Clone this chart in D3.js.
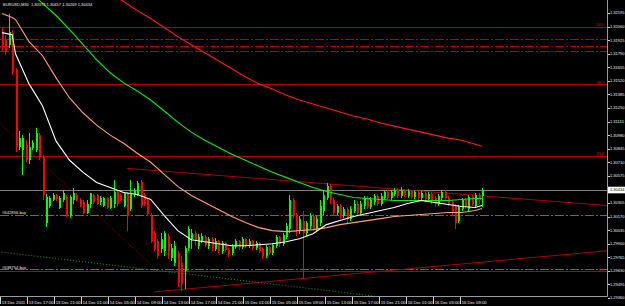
<!DOCTYPE html>
<html><head><meta charset="utf-8">
<script src="https://cdn.jsdelivr.net/npm/d3@7"></script>
<style>html,body{margin:0;padding:0;background:#000;overflow:hidden}</style>
</head><body><svg id="c" width="625" height="306"></svg>
<script>
const symbolTitle = "EURUSD,M30";
const opens = [
1.3200,1.3193,1.3188,1.3200,1.3163,1.3086,1.3083,1.3088,1.3073,1.3085,
1.3083,1.3098,1.3076,1.3011,1.3028,1.3033,1.3038,1.3026,1.3033,1.3036,
1.3018,1.3033,1.3038,1.3033,1.3031,1.3021,1.3030,1.3038,1.3038,1.3031,
1.3028,1.3035,1.3026,1.3030,1.3041,1.3038,1.3028,1.3040,1.3025,1.3038,
1.3038,1.3051,1.3038,1.3033,1.3018,1.3001,1.2993,1.2985,1.2983,1.2998,
1.2976,1.2971,1.2981,1.2971,1.2963,1.2986,1.2995,1.3001,1.2988,1.2993,
1.2997,1.2988,1.2995,1.2985,1.2993,1.2983,1.2991,1.2984,1.2981,1.2987,
1.2993,1.2987,1.2995,1.2988,1.2993,1.2986,1.2991,1.2985,1.2978,1.2987,
1.2981,1.2988,1.2997,1.2990,1.2997,1.3005,1.3033,1.3018,1.3003,1.3013,
1.3001,1.3008,1.3018,1.3005,1.3011,1.3023,1.3035,1.3047,1.3033,1.3021,
1.3028,1.3018,1.3025,1.3015,1.3023,1.3030,1.3021,1.3028,1.3035,1.3027,
1.3031,1.3037,1.3030,1.3035,1.3041,1.3035,1.3039,1.3043,1.3037,1.3043,
1.3037,1.3042,1.3036,1.3041,1.3035,1.3040,1.3034,1.3039,1.3035,1.3030,
1.3035,1.3041,1.3035,1.3031,1.3028,1.3013,1.3025,1.3033,1.3025,1.3036,
1.3028,1.3038,1.30373];
const highs = [
1.3205,1.3198,1.3219,1.3203,1.3165,1.3102,1.3098,1.3093,1.3100,1.3093,
1.3105,1.3100,1.3078,1.3039,1.3037,1.3040,1.3039,1.3037,1.3043,1.3038,
1.3038,1.3045,1.3040,1.3035,1.3033,1.3033,1.3040,1.3039,1.3039,1.3037,
1.3036,1.3036,1.3037,1.3053,1.3043,1.3039,1.3041,1.3041,1.3053,1.3045,
1.3052,1.3053,1.3040,1.3035,1.3021,1.3003,1.2995,1.3001,1.3003,1.3000,
1.2990,1.2993,1.2983,1.2978,1.2988,1.3008,1.3005,1.3003,1.3000,1.3001,
1.2999,1.2997,1.2997,1.2996,1.2994,1.2993,1.2992,1.2986,1.2990,1.2995,
1.2994,1.2997,1.2996,1.2995,1.2994,1.2993,1.2992,1.2987,1.2989,1.2988,
1.2991,1.2999,1.2998,1.3001,1.3011,1.3038,1.3035,1.3021,1.3018,1.3023,
1.3013,1.3021,1.3020,1.3018,1.3033,1.3043,1.3050,1.3049,1.3035,1.3030,
1.3030,1.3027,1.3027,1.3028,1.3033,1.3032,1.3032,1.3037,1.3037,1.3036,
1.3039,1.3039,1.3040,1.3043,1.3043,1.3043,1.3045,1.3045,1.3046,1.3044,
1.3044,1.3043,1.3043,1.3042,1.3042,1.3041,1.3041,1.3041,1.3037,1.3039,
1.3043,1.3043,1.3037,1.3033,1.3030,1.3029,1.3035,1.3035,1.3038,1.3038,
1.3040,1.3040,1.30457];
const lows = [
1.3181,1.3178,1.3185,1.3158,1.3081,1.3083,1.3058,1.3071,1.3069,1.3083,
1.3081,1.3073,1.3033,1.3007,1.3026,1.3032,1.3032,1.3025,1.3031,1.3017,
1.3016,1.3030,1.3032,1.3027,1.3020,1.3020,1.3026,1.3030,1.3029,1.3029,
1.3027,1.3025,1.3025,1.3026,1.3028,1.3032,1.3027,1.3003,1.3023,1.3036,
1.3037,1.3026,1.3028,1.3018,1.2991,1.2983,1.2975,1.2981,1.2978,1.2975,
1.2973,1.2968,1.2947,1.2943,1.2945,1.2983,1.2985,1.2988,1.2985,1.2991,
1.2987,1.2985,1.2983,1.2983,1.2981,1.2980,1.2982,1.2977,1.2979,1.2985,
1.2984,1.2985,1.2986,1.2986,1.2984,1.2984,1.2981,1.2975,1.2976,1.2979,
1.2979,1.2986,1.2987,1.2988,1.2995,1.3001,1.3015,1.2998,1.3000,1.2955,
1.2998,1.3005,1.3003,1.3003,1.3008,1.3019,1.3033,1.3030,1.3018,1.3019,
1.3015,1.3016,1.3011,1.3013,1.3021,1.3019,1.3019,1.3025,1.3025,1.3025,
1.3029,1.3028,1.3028,1.3033,1.3033,1.3033,1.3037,1.3035,1.3035,1.3036,
1.3035,1.3034,1.3034,1.3033,1.3033,1.3031,1.3032,1.3030,1.3027,1.3028,
1.3033,1.3033,1.3028,1.3018,1.3005,1.3011,1.3023,1.3025,1.3023,1.3028,
1.3026,1.3030,1.30269];
const closes = [
1.3188,1.3181,1.3201,1.3161,1.3086,1.3095,1.3095,1.3073,1.3086,1.3090,
1.3100,1.3076,1.3038,1.3036,1.3035,1.3038,1.3034,1.3035,1.3040,1.3018,
1.3036,1.3040,1.3033,1.3028,1.3021,1.3030,1.3040,1.3031,1.3030,1.3035,
1.3035,1.3026,1.3035,1.3041,1.3030,1.3033,1.3040,1.3018,1.3040,1.3043,
1.3050,1.3028,1.3030,1.3020,1.2993,1.2985,1.2978,1.2995,1.3001,1.2983,
1.2986,1.2988,1.2951,1.2950,1.2986,1.3005,1.3001,1.2993,1.2997,1.2998,
1.2989,1.2995,1.2986,1.2993,1.2983,1.2991,1.2984,1.2980,1.2988,1.2993,
1.2987,1.2995,1.2988,1.2993,1.2986,1.2991,1.2983,1.2978,1.2987,1.2981,
1.2989,1.2997,1.2990,1.2999,1.3008,1.3033,1.3018,1.3003,1.3015,1.3001,
1.3011,1.3018,1.3005,1.3015,1.3028,1.3038,1.3047,1.3033,1.3021,1.3028,
1.3018,1.3025,1.3015,1.3025,1.3030,1.3021,1.3030,1.3035,1.3027,1.3033,
1.3037,1.3030,1.3037,1.3041,1.3035,1.3041,1.3043,1.3037,1.3043,1.3038,
1.3042,1.3036,1.3041,1.3035,1.3040,1.3034,1.3039,1.3033,1.3030,1.3037,
1.3041,1.3035,1.3030,1.3021,1.3011,1.3027,1.3033,1.3027,1.3036,1.3030,
1.3038,1.3033,1.30434];

const timeLabels = ["13 Dec 2011","13 Dec 17:00","13 Dec 21:00","14 Dec 01:00","14 Dec 05:00","14 Dec 09:00",
"14 Dec 13:00","14 Dec 17:00","14 Dec 21:00","15 Dec 01:00","15 Dec 05:00","15 Dec 09:00",
"15 Dec 13:00","15 Dec 17:00","15 Dec 21:00","16 Dec 01:00","16 Dec 05:00","16 Dec 09:00"];
const timeLabelBars = [0,8,16,24,32,40,48,56,64,72,80,88,96,104,112,120,128,136];

const priceTicks = [1.32195,1.32060,1.31925,1.31790,1.31655,1.31520,1.31385,1.31250,1.31115,1.30980,1.30845,
1.30710,1.30575,1.30440,1.30305,1.30170,1.30035,1.29900,1.29765,1.29630,1.29495,1.29360];

const maBars = [0,3,4,8,12,16,20,24,28,32,36,40,44,48,52,56,60,64,68,72,76,80,84,88,92,96,100,104,108,112,116,120,124,128,132,136,140,142];
const maWhite = [1.3200,1.3198,1.3179,1.3149,1.3127,1.3092,1.3073,1.3061,1.3051,1.3046,1.3041,1.3039,1.3034,1.3018,1.3003,1.2994,1.2992,1.2990,1.2988,1.2988,1.2989,1.2990,1.2992,1.2995,1.3000,1.3009,1.3013,1.3017,1.3020,1.3023,1.3026,1.3030,1.3033,1.3031,1.3029,1.3027,1.3026,1.3028];
const maSalmon = [1.3219,1.3215,1.3213,1.3191,1.3177,1.3155,1.3135,1.3120,1.3108,1.3098,1.3090,1.3080,1.3071,1.3059,1.3047,1.3038,1.3031,1.3024,1.3017,1.3011,1.3006,1.3003,1.3002,1.3003,1.3004,1.3006,1.3009,1.3011,1.3013,1.3015,1.3017,1.3018,1.3019,1.3020,1.3021,1.3021,1.3023,1.3025];
const maGreen = [1.3266,1.3257,1.3253,1.3241,1.3229,1.3217,1.3203,1.3188,1.3173,1.3160,1.3150,1.3142,1.3133,1.3122,1.3111,1.3101,1.3093,1.3086,1.3079,1.3073,1.3067,1.3061,1.3056,1.3051,1.3046,1.3042,1.3039,1.3036,1.3035,1.3034,1.3033,1.3033,1.3033,1.3033,1.3033,1.3034,1.3035,1.3035];
const maRed = [1.3310,1.3303,1.3301,1.3292,1.3283,1.3275,1.3266,1.3257,1.3248,1.3239,1.3231,1.3222,1.3214,1.3205,1.3196,1.3188,1.3180,1.3172,1.3164,1.3156,1.3149,1.3144,1.3138,1.3133,1.3129,1.3125,1.3121,1.3117,1.3114,1.3110,1.3107,1.3104,1.3101,1.3098,1.3095,1.3093,1.3089,1.3087];

const fibLow = 1.2962, fibHigh = 1.3449;
const fibLevels = [0, 23.6, 38.2, 50];
const fibLabels = ["0.0","23.6","38.2","50.0"];
const pendingLevels = [1.3193, 1.3186, 1.3181];
const orderLabels = ["#642856 buy", "#638754 buy"];
const orderPrices = [1.3018, 1.2964];
const bidPrice = 1.30434;
// trend lines: [bar1, price1, bar2, price2]
const trendSolid = [[37, 1.3065, 179, 1.3028], [45, 1.2942, 179, 1.2983]];
const trendDottedRed = [-1, 1.3111, 46, 1.2963];
const trendDottedGreen = [-1, 1.2982, 130, 1.2930];

// ---------- drawing ----------
const W = 625, H = 306, PW = 607, PH = 296;
const FONT = "Liberation Sans, Arial, sans-serif";
const svg = d3.select("#c");
svg.append("rect").attr("width", W).attr("height", H).attr("fill", "#000");

const x = d3.scaleLinear().domain([0, 142]).range([2, 482]);
const y = d3.scaleLinear().domain([priceTicks[0], priceTicks[priceTicks.length-1]]).range([13, 298]);

svg.append("clipPath").attr("id","clip").append("rect").attr("x",0).attr("y",0).attr("width",PW).attr("height",PH);
const g = svg.append("g").attr("clip-path","url(#clip)");

// fib lines
fibLevels.forEach((lv,k) => {
  const p = fibLow + (fibHigh - fibLow) * lv / 100;
  g.append("line").attr("x1",0).attr("x2",PW).attr("y1",y(p)).attr("y2",y(p))
    .attr("stroke","#b40000").attr("stroke-width",1).attr("shape-rendering","crispEdges");
  g.append("text").attr("x",604).attr("y",y(p)-1).attr("text-anchor","end")
    .attr("font-family",FONT).attr("font-size",4).attr("fill","#e00000").text(fibLabels[k]);
});
// pending dash-dot red
pendingLevels.forEach(p => {
  g.append("line").attr("x1",0).attr("x2",PW).attr("y1",y(p)).attr("y2",y(p))
    .attr("stroke","#c00000").attr("stroke-width",1).attr("stroke-dasharray","9,2,2,2").attr("shape-rendering","crispEdges");
});
// order lines
orderPrices.forEach((p,k) => {
  g.append("line").attr("x1",0).attr("x2",PW).attr("y1",y(p)).attr("y2",y(p))
    .attr("stroke","#1f9a1f").attr("stroke-width",1).attr("stroke-dasharray","9,2,2,2").attr("shape-rendering","crispEdges");
  g.append("text").attr("x",2).attr("y",y(p)-1.2)
    .attr("font-family",FONT).attr("font-size",4.2).attr("fill","#e8e8e8").text(orderLabels[k]);
});
// bid line
g.append("line").attr("x1",0).attr("x2",PW).attr("y1",y(bidPrice)).attr("y2",y(bidPrice))
  .attr("stroke","#808080").attr("stroke-width",1).attr("shape-rendering","crispEdges");

// trend lines
trendSolid.forEach(t => {
  g.append("line").attr("x1",x(t[0])).attr("y1",y(t[1])).attr("x2",x(t[2])).attr("y2",y(t[3]))
    .attr("stroke","#a80000").attr("stroke-width",1);
});
g.append("line").attr("x1",x(trendDottedRed[0])).attr("y1",y(trendDottedRed[1])).attr("x2",x(trendDottedRed[2])).attr("y2",y(trendDottedRed[3]))
  .attr("stroke","#b00000").attr("stroke-width",1).attr("stroke-dasharray","1,2");
g.append("line").attr("x1",x(trendDottedGreen[0])).attr("y1",y(trendDottedGreen[1])).attr("x2",x(trendDottedGreen[2])).attr("y2",y(trendDottedGreen[3]))
  .attr("stroke","#1aa01a").attr("stroke-width",1).attr("stroke-dasharray","1,2");

// candles
const bars = d3.range(opens.length);
const cg = g.append("g").attr("shape-rendering","crispEdges");
cg.selectAll("line.w").data(bars).join("line").attr("class","w")
  .attr("x1", i => Math.round(x(i))+0.5).attr("x2", i => Math.round(x(i))+0.5)
  .attr("y1", i => y(highs[i])).attr("y2", i => y(lows[i]))
  .attr("stroke", i => closes[i] >= opens[i] ? "#00ff00" : "#ff0000").attr("stroke-width",1);
cg.selectAll("rect.b").data(bars).join("rect").attr("class","b")
  .attr("x", i => Math.round(x(i))-0.5).attr("width", 2)
  .attr("y", i => y(Math.max(opens[i], closes[i])))
  .attr("height", i => Math.max(1, Math.abs(y(opens[i]) - y(closes[i]))))
  .attr("fill", i => closes[i] >= opens[i] ? "#00ff00" : "#ff0000");

// moving averages
const maLine = d3.line().x((d,k) => x(maBars[k])).y(d => y(d));
[[maRed,"#ff1a1a"],[maGreen,"#19e619"],[maSalmon,"#ffa07a"],[maWhite,"#ffffff"]].forEach(([arr,col]) => {
  g.append("path").attr("d", maLine(arr)).attr("fill","none").attr("stroke",col).attr("stroke-width",1.1);
});

// axes frame
svg.append("line").attr("x1",PW+0.5).attr("x2",PW+0.5).attr("y1",0).attr("y2",PH+0.5).attr("stroke","#9a9a9a");
svg.append("line").attr("x1",0).attr("x2",PW+0.5).attr("y1",PH+0.5).attr("y2",PH+0.5).attr("stroke","#9a9a9a");

// price axis
const pa = svg.append("g");
priceTicks.forEach(p => {
  pa.append("line").attr("x1",PW+1).attr("x2",PW+3).attr("y1",Math.round(y(p))+0.5).attr("y2",Math.round(y(p))+0.5).attr("stroke","#d0d0d0");
  pa.append("text").attr("x",610).attr("y",y(p)).attr("dy","0.35em")
    .attr("font-family",FONT).attr("font-size",4).attr("fill","#f0f0f0").text(p.toFixed(5));
});
// bid box
pa.append("rect").attr("x",608).attr("y",y(bidPrice)-3.3).attr("width",17).attr("height",6.6).attr("fill","#ffffff");
pa.append("text").attr("x",610).attr("y",y(bidPrice)).attr("dy","0.35em")
  .attr("font-family",FONT).attr("font-size",4).attr("fill","#000").text(bidPrice.toFixed(5));

// time axis
const ta = svg.append("g");
timeLabelBars.forEach((b,k) => {
  const tx = Math.round(x(b) - 2) + 0.5;
  ta.append("line").attr("x1",tx).attr("x2",tx).attr("y1",PH+1).attr("y2",304).attr("stroke","#d0d0d0");
  ta.append("text").attr("x",tx+1.2).attr("y",304)
    .attr("font-family",FONT).attr("font-size",4.2).attr("fill","#f0f0f0").text(timeLabels[k]);
});

// title
const last = opens.length - 1;
svg.append("text").attr("x",3).attr("y",6)
  .attr("font-family",FONT).attr("font-size",4).attr("fill","#f0f0f0")
  .attr("xml:space","preserve")
  .text(`${symbolTitle}  ${opens[last].toFixed(5)} ${highs[last].toFixed(5)} ${lows[last].toFixed(5)} ${closes[last].toFixed(5)}`);
</script>
</body></html>
